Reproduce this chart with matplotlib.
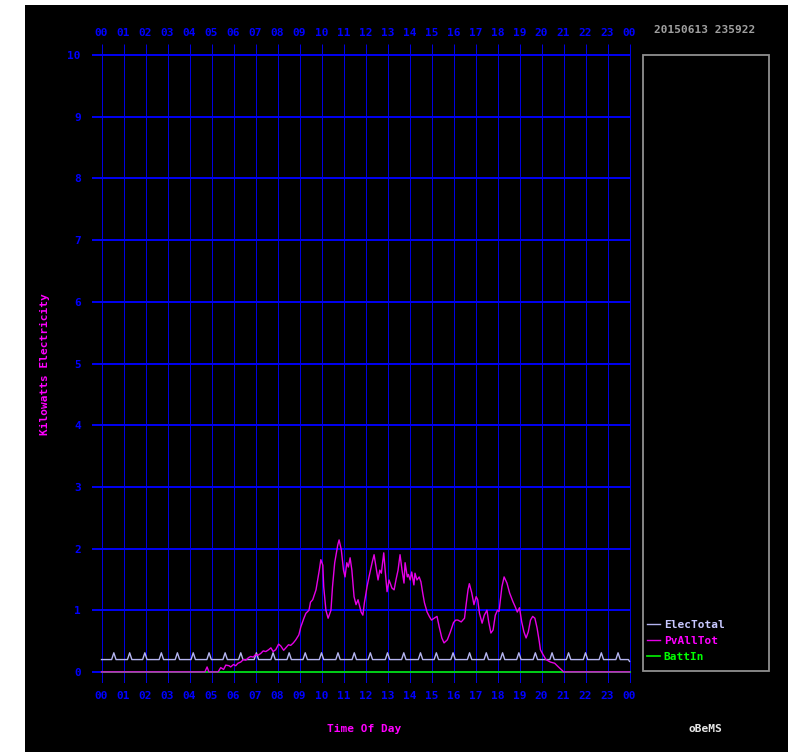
import numpy as np
import matplotlib
matplotlib.use("Agg")
import matplotlib.pyplot as plt
from matplotlib.patches import Rectangle

plt.rcParams['font.family'] = ['DejaVu Sans Mono']
plt.rcParams['font.weight'] = 'bold'

# ---- data ----
hour_labels = ['%02d' % h for h in range(24)] + ['00']
y_ticks = list(range(0, 11))

# ElecTotal: flat base load with short regular spikes
elec_base = 0.2
elec_spike_peak = 0.31
elec_spike_times = [0.56, 1.28, 1.97, 2.72, 3.45, 4.17, 4.89, 5.62, 6.33, 7.04,
                    7.80, 8.53, 9.26, 10.00, 10.75, 11.49, 12.22, 13.00, 13.74,
                    14.50, 15.22, 15.98, 16.73, 17.49, 18.23, 18.97, 19.72,
                    20.48, 21.23, 22.00, 22.72, 23.48]

# PvAllTot (hours, kW)
pv_hours = [0.0, 4.7, 4.8, 4.88, 5.3, 5.42, 5.55, 5.65, 5.8, 5.87, 6.0, 6.1, 6.2,
            6.33, 6.45, 6.56, 6.68, 6.78, 6.9, 7.0, 7.12, 7.24, 7.35, 7.47, 7.6,
            7.7, 7.8, 7.92, 8.05, 8.15, 8.28, 8.38, 8.5, 8.6, 8.72, 8.83, 8.97,
            9.06, 9.2, 9.29, 9.43, 9.5, 9.6, 9.75, 9.9, 9.97, 10.06, 10.1, 10.2,
            10.3, 10.43, 10.5, 10.6, 10.74, 10.8, 10.9, 11.0, 11.07, 11.15,
            11.22, 11.3, 11.38, 11.48, 11.57, 11.66, 11.8, 11.88, 11.95, 12.07,
            12.16, 12.3, 12.39, 12.48, 12.57, 12.65, 12.72, 12.83, 12.9, 12.98,
            13.07, 13.2, 13.3, 13.39, 13.48, 13.57, 13.66, 13.75, 13.8, 13.9,
            13.95, 14.03, 14.1, 14.2, 14.25, 14.34, 14.44, 14.52, 14.6, 14.68,
            14.8, 14.9, 15.0, 15.12, 15.25, 15.35, 15.47, 15.57, 15.72, 15.86,
            16.0, 16.1, 16.2, 16.35, 16.5, 16.58, 16.66, 16.72, 16.83, 16.93,
            17.03, 17.1, 17.18, 17.3, 17.4, 17.52, 17.6, 17.7, 17.8, 17.9, 18.0,
            18.07, 18.13, 18.2, 18.3, 18.43, 18.55, 18.7, 18.8, 18.9, 19.0,
            19.1, 19.2, 19.3, 19.4, 19.5, 19.6, 19.7, 19.8, 19.9, 19.95, 20.07,
            20.2, 20.4, 20.6, 20.77, 20.95, 21.0, 24.0]
pv_kw = [0.0, 0.0, 0.08, 0.0, 0.0, 0.07, 0.04, 0.11, 0.1, 0.08, 0.12, 0.1, 0.14,
         0.16, 0.2, 0.19, 0.23, 0.25, 0.24, 0.28, 0.27, 0.3, 0.34, 0.33, 0.36,
         0.39, 0.33, 0.36, 0.45, 0.42, 0.35, 0.39, 0.44, 0.43, 0.47, 0.52, 0.6,
         0.73, 0.87, 0.95, 1.0, 1.13, 1.17, 1.33, 1.65, 1.82, 1.73, 1.38, 1.0,
         0.87, 1.0, 1.38, 1.77, 2.06, 2.14, 1.98, 1.65, 1.54, 1.77,
         1.7, 1.85, 1.65, 1.22, 1.09, 1.17, 0.97, 0.92, 1.12, 1.38,
         1.54, 1.77, 1.9, 1.7, 1.49, 1.65, 1.6, 1.93, 1.62, 1.3,
         1.49, 1.36, 1.33, 1.5, 1.65, 1.9, 1.65, 1.44, 1.77, 1.54,
         1.58, 1.49, 1.62, 1.41, 1.6, 1.49, 1.54, 1.46, 1.28, 1.12,
         0.97, 0.9, 0.84, 0.87, 0.9, 0.73, 0.55, 0.47, 0.52, 0.65,
         0.8, 0.84, 0.84, 0.81, 0.87, 1.11, 1.33, 1.43, 1.28, 1.09,
         1.22, 1.17, 0.95, 0.79, 0.92, 1.0, 0.81, 0.63, 0.68, 0.92, 1.0,
         0.98, 1.17, 1.38, 1.54, 1.44, 1.28, 1.14, 1.06, 0.97, 1.04,
         0.81, 0.65, 0.55, 0.65, 0.84, 0.9, 0.87, 0.71, 0.49, 0.36, 0.28,
         0.2, 0.16, 0.14, 0.08, 0.02, 0.0, 0.0]

# BattIn: zero all day
batt_hours = [0.0, 24.0]
batt_kw = [0.0, 0.0]

# build the ElecTotal trace from the spike list
elec_h = [0.0]
elec_v = [elec_base]
for t in elec_spike_times:
    elec_h += [t - 0.1, t, t + 0.1]
    elec_v += [elec_base, elec_spike_peak, elec_base]
elec_h += [23.95, 24.0]
elec_v += [elec_base, 0.17]

# ---- figure ----
fig = plt.figure(figsize=(7.95, 7.52), dpi=100)
fig.patch.set_facecolor('white')
W, H = 795, 752
fig.patches.append(Rectangle((25 / W, 0), (788 - 25) / W, (752 - 5) / H,
                             transform=fig.transFigure, facecolor='black',
                             edgecolor='none', zorder=0))

# 22 px per hour so the 1px hour lines land on pixel centres
px_h = 22.0
ax_left, ax_w = 92, 538.5
ax = fig.add_axes([ax_left / W, (H - 683) / H, ax_w / W, 639 / H])
ax.set_zorder(3)
ax.set_facecolor('black')
ax.set_xlim(-9.5 / px_h, (ax_w - 9.5) / px_h)
ax.set_ylim(-0.18, 10.18)
for s in ax.spines.values():
    s.set_visible(False)

# grid
ax.vlines(range(25), -0.18, 10.18, color='#0000e0', lw=0.72, zorder=1)
ax.hlines(y_ticks, -9.5 / px_h, 24.0, color='#0000ee', lw=1.44, zorder=1)

# series
l_batt, = ax.plot(batt_hours, batt_kw, color='#00e000', lw=1.3, zorder=3, label='BattIn')
l_elec, = ax.plot(elec_h, elec_v, color='#b4b4f0', lw=1.0, zorder=4, label='ElecTotal')
l_pv, = ax.plot(pv_hours, pv_kw, color='#e600e6', lw=1.0, zorder=5, label='PvAllTot')

# ticks: hours below and above, kW on the left
ax.set_xticks(range(25))
ax.set_xticklabels(hour_labels)
ax.set_yticks(y_ticks)
ax.tick_params(axis='x', length=0, pad=6, colors='#0000ff', labelsize=8)
ax.tick_params(axis='y', length=0, pad=8, colors='#0000ff', labelsize=8)

top = ax.secondary_xaxis('top')
top.set_xticks(range(25))
top.set_xticklabels(hour_labels)
top.tick_params(length=0, pad=4, colors='#0000ff', labelsize=8)
top.spines['top'].set_visible(False)

# texts
fig.text(705 / W, 1 - 30 / H, '20150613 235922', color='#a0a0a0', fontsize=8,
         ha='center', va='center')
fig.text(364 / W, 1 - 729 / H, 'Time Of Day', color='#ff00ff', fontsize=8,
         ha='center', va='center')
fig.text(705 / W, 1 - 729 / H, 'oBeMS', color='#e8e8e8', fontsize=8,
         ha='center', va='center')
fig.text(45 / W, 1 - 364 / H, 'Kilowatts Electricity', color='#ff00ff', fontsize=8,
         ha='center', va='center', rotation=90)

# legend box
fig.patches.append(Rectangle((643 / W, (H - 671) / H), (769 - 643) / W, (671 - 55) / H,
                             transform=fig.transFigure, facecolor='black',
                             edgecolor='#909090', lw=1.3, zorder=1))
leg = fig.legend([l_elec, l_pv, l_batt], ['ElecTotal', 'PvAllTot', 'BattIn'],
                 loc='center left', bbox_to_anchor=(647 / W, 1 - 641 / H),
                 frameon=False, fontsize=8, handlelength=1.2, handletextpad=0.3,
                 labelspacing=0.55, borderpad=0, borderaxespad=0)
leg.set_zorder(4)
for txt, c in zip(leg.get_texts(), ['#c8c8ff', '#ff00ff', '#00ff00']):
    txt.set_color(c)

fig.savefig('out.png', dpi=100, facecolor=fig.get_facecolor())
